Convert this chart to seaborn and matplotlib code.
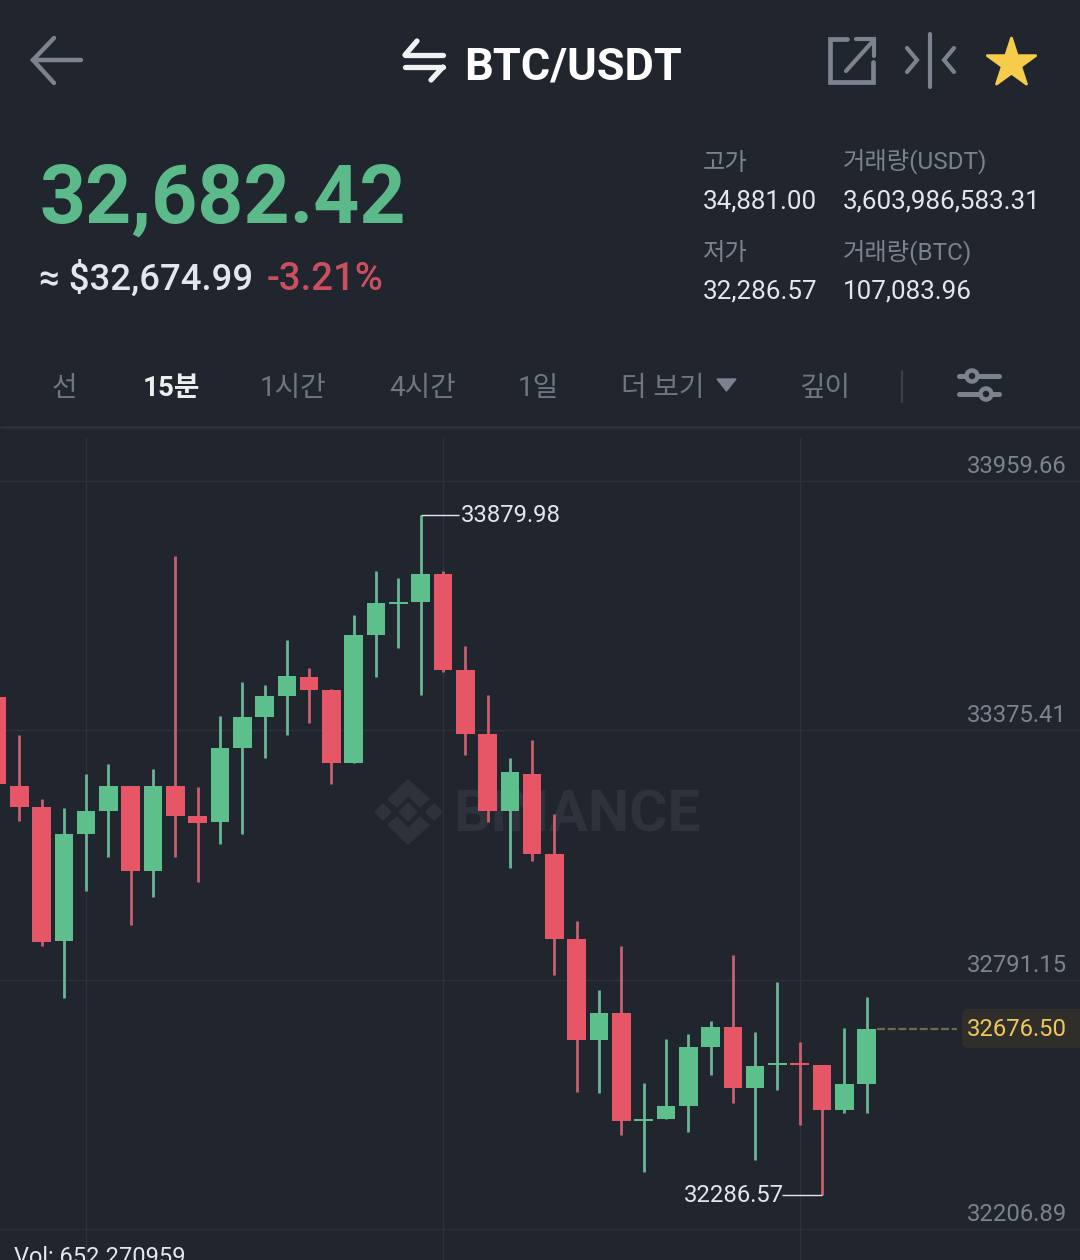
import numpy as np
import pandas as pd
import matplotlib.pyplot as plt
import seaborn as sns
from matplotlib.patches import Polygon, Circle, FancyBboxPatch

# candle values
opens = [33452.8, 33244.9, 33195.0, 32882.3, 33132.4, 33187.0, 33244.2, 33045.7, 33245.6, 33174.6,
         33159.8, 33334.0, 33406.6, 33455.8, 33499.7, 33469.2, 33299.5, 33598.8, 33671.1, 33675.4,
         33742.4, 33516.1, 33366.8, 33187.0, 33273.7, 33084.8, 32886.3, 32649.6, 32712.9, 32460.3,
         32464.5, 32494.9, 32633.2, 32679.4, 32537.8, 32590.2, 32595.2, 32590.3, 32484.9, 32546.5]
closes = [33248.9, 33195.0, 32880.0, 33132.4, 33187.0, 33244.9, 33045.7, 33245.6, 33175.3, 33158.9,
          33334.0, 33406.6, 33455.8, 33503.4, 33469.9, 33299.5, 33598.8, 33673.1, 33676.1, 33742.4,
          33516.1, 33366.8, 33187.0, 33277.0, 33084.8, 32886.3, 32649.6, 32712.9, 32459.8, 32465.3,
          32494.9, 32633.2, 32679.4, 32537.8, 32588.0, 32595.2, 32590.2, 32486.3, 32545.8, 32676.5]
highs = [33452.8, 33364.4, 33213.7, 33192.6, 33272.3, 33295.8, 33244.2, 33284.0, 33784.6, 33243.3,
         33409.7, 33489.3, 33482.3, 33586.4, 33520.7, 33472.9, 33644.9, 33748.8, 33731.7, 33879.98,
         33748.1, 33573.7, 33457.5, 33310.5, 33352.7, 33178.6, 32929.2, 32766.1, 32869.2, 32549.5,
         32652.7, 32663.7, 32694.2, 32848.1, 32669.1, 32784.9, 32644.9, 32590.3, 32678.5, 32749.7]
lows = [33248.9, 33162.9, 32870.6, 32748.8, 32999.5, 33077.8, 32919.8, 32985.5, 33077.8, 33020.6,
        33109.7, 33133.1, 33309.8, 33363.7, 33391.8, 33250.3, 33299.5, 33499.7, 33569.0, 33457.5,
        33512.1, 33317.5, 33161.2, 33053.4, 33069.8, 32802.0, 32527.1, 32526.2, 32426.3, 32339.6,
        32464.5, 32434.0, 32567.6, 32502.7, 32369.1, 32531.7, 32449.7, 32286.57, 32479.2, 32479.2]

axis_prices = [33959.66, 33375.41, 32791.15, 32206.89]
grid_candles = [4, 20, 36]
high_label = "33879.98"
low_label = "32286.57"
last_price = 32676.50
tabs = ["선", "15분", "1시간", "4시간", "1일", "더 보기", "깊이"]

BG = "#21252e"
GRID = "#2c313a"
GREEN = "#5cbf8c"
RED = "#e65667"
WICK_GREEN = "#6ab594"
WICK_RED = "#c9606f"
GREY = "#7c838e"
LIGHT = "#e3e6ea"
FONT = ["Roboto", "Noto Sans CJK KR", "DejaVu Sans"]

sns.set_theme(style="dark", rc={"figure.facecolor": BG, "axes.facecolor": BG, "lines.solid_capstyle": "butt"})
plt.rcParams["font.family"] = FONT

fig = plt.figure(figsize=(10.8, 12.6), dpi=100)

# pixel layer for header and watermark, sits under the chart
bg = fig.add_axes([0, 0, 1, 1], zorder=0)
bg.set_xlim(0, 1080)
bg.set_ylim(1260, 0)
bg.axis("off")


def label(x, y, s, size, color=LIGHT, ha="left", weight="normal"):
    bg.text(x, y + 3, s, fontsize=size, color=color, ha=ha, va="center", fontweight=weight)


def stroke(xs, ys, color=GREY, lw=3.0):
    bg.plot(xs, ys, color=color, lw=lw, solid_capstyle="round", solid_joinstyle="miter")


# top bar
stroke([33, 81], [60, 60], lw=3.2)
stroke([54, 33, 54], [38, 60, 83], lw=3.2)
stroke([405, 443], [55, 55], color="#f0f1f3", lw=3.8)
stroke([405, 417], [55, 41], color="#f0f1f3", lw=3.8)
stroke([405, 443], [67, 67], color="#f0f1f3", lw=3.8)
stroke([443, 431], [67, 80], color="#f0f1f3", lw=3.8)
label(464, 65, "BTC/USDT", 32.5, color="white", weight="bold")
stroke([847, 830, 830, 873, 873], [39, 39, 82, 82, 62], lw=3.4)
stroke([846, 873], [71, 41], lw=3.0)
stroke([856, 874, 874], [39, 39, 56], lw=3.0)
stroke([930, 930], [34, 87], lw=3.0)
stroke([907, 917, 907], [48, 60, 72], lw=3.0)
stroke([954, 944, 954], [48, 60, 72], lw=3.0)
bg.scatter([1011], [63], marker="*", s=1340, color="#f6cd4a", edgecolors="#f6cd4a", linewidths=2)

# price block
label(40, 198, "32,682.42", 58, color="#5cb98a", weight="bold")
label(39, 276, "≈ $32,674.99", 26.3, color=LIGHT, weight="medium")
label(267, 276, "-3.21%", 27.6, color="#c9505f", weight="medium")

label(703, 160, "고가", 17.5, color=GREY)
label(843, 158.5, "거래량(USDT)", 17.5, color=GREY)
label(703, 198, "34,881.00", 18.7, color=LIGHT)
label(843, 198, "3,603,986,583.31", 18.7, color=LIGHT)
label(703, 251, "저가", 17.5, color=GREY)
label(843, 249.5, "거래량(BTC)", 17.5, color=GREY)
label(703, 289, "32,286.57", 18.7, color=LIGHT)
label(843, 289, "107,083.96", 18.7, color=LIGHT)

# interval tabs
tab_x = [64, 171, 293, 423, 538, 663, 825]
for x, s in zip(tab_x, tabs):
    active = s == "15분"
    bg.text(x, 389, s, fontsize=20, ha="center", va="center",
            color="#eceef0" if active else "#6f7682", fontweight="bold" if active else "normal")
bg.add_patch(Polygon([[717, 379], [736, 379], [726.5, 391]], color="#7c838e"))
stroke([902, 902], [371, 402], color="#3a3f48", lw=1.6)
stroke([959, 999], [376, 376], lw=3.6)
stroke([959, 999], [394, 394], lw=3.6)
bg.add_patch(Circle((972, 376), 5.5, fc=BG, ec=GREY, lw=3.2, zorder=5))
bg.add_patch(Circle((986, 394), 5.5, fc=BG, ec=GREY, lw=3.2, zorder=5))
bg.plot([0, 1080], [427, 427], color="#2e323b", lw=1.8)

# watermark
MARK = "#2e323b"
for cx, r in [(383, 8), (434, 8), (408, 9)]:
    bg.add_patch(Polygon([[cx - r, 812], [cx, 812 - r], [cx + r, 812], [cx, 812 + r]], color=MARK))
bg.add_patch(Polygon([[408, 780], [429, 799], [420, 807], [408, 795], [397, 807], [388, 799]], color=MARK))
bg.add_patch(Polygon([[408, 844], [429, 825], [420, 817], [408, 829], [397, 817], [388, 825]], color=MARK))
label(453, 813, "BINANCE", 42, color=MARK, weight="bold")

# chart, starts left of the canvas because the first candle is cut by the edge
ax = fig.add_axes([-33 / 1080, 0, 1113 / 1080, 822 / 1260], zorder=1)
ax.patch.set_alpha(0)

df = pd.DataFrame({"i": range(len(opens)), "open": opens, "close": closes, "high": highs, "low": lows})
df["dir"] = np.where(df["close"] < df["open"], "down", "up")
wicks = df.melt(id_vars=["i", "dir"], value_vars=["high", "low"], value_name="price")

sns.lineplot(data=wicks, x="i", y="price", hue="dir", units="i", estimator=None, sort=False,
             palette={"up": WICK_GREEN, "down": WICK_RED}, linewidth=2.0, legend=False, ax=ax, zorder=3)
# bars, not thick lines: agg drops a line sitting fully off canvas
ax.bar(df["i"], (df["close"] - df["open"]).abs(), bottom=df[["open", "close"]].min(axis=1), width=0.834,
       color=df["dir"].map({"up": GREEN, "down": RED}), linewidth=0, zorder=4)

ax.set_xlim(-1.345, 48.565)
ax.set_ylim(32134.0, 34060.4)
ax.set_xticks(grid_candles)
ax.set_yticks(axis_prices)
ax.grid(True, color=GRID, linewidth=1.0)
ax.set_axisbelow(True)
ax.set_xlabel("")
ax.set_ylabel("")
ax.tick_params(left=False, bottom=False, labelleft=False, labelbottom=False)
sns.despine(ax=ax, left=True, bottom=True)

# price scale labels sit just above their grid lines
for p in axis_prices:
    ax.annotate(f"{p:.2f}", xy=(1, p), xycoords=ax.get_yaxis_transform(), xytext=(-9.3, 10.5),
                textcoords="offset points", ha="right", va="center", fontsize=17.2, color=GREY)

# high / low callouts
high_i = int(np.argmax(highs))
low_i = int(np.argmin(lows))
ax.plot([high_i, high_i + 1.72], [highs[high_i]] * 2, color=LIGHT, lw=1.0, zorder=5)
ax.text(high_i + 1.8, highs[high_i] - 2, high_label, fontsize=17.2, color=LIGHT, va="center", ha="left")
ax.plot([low_i, low_i - 1.78], [lows[low_i]] * 2, color=LIGHT, lw=1.0, zorder=5)
ax.text(low_i - 1.72, lows[low_i] - 2, low_label, fontsize=17.2, color=LIGHT, va="center", ha="right")

# last price tag
ax.plot([39.45, 43.05], [last_price] * 2, color="#6f6a4e", lw=1.6, ls=(0, (3.6, 1.2)), zorder=2)
tag = FancyBboxPatch((966, 1013), 120, 31, boxstyle="round,pad=4,rounding_size=6", fc="#2f2e2b", ec="none")
bg.add_patch(tag)
ax.annotate(f"{last_price:.2f}", xy=(1, last_price), xycoords=ax.get_yaxis_transform(), xytext=(-9.3, -0.5),
            textcoords="offset points", ha="right", va="center", fontsize=17.2, color="#efc75e")

label(14, 1255, "Vol: 652.270959", 17, color=LIGHT)

fig.savefig("out.png", dpi=100, facecolor=BG)
